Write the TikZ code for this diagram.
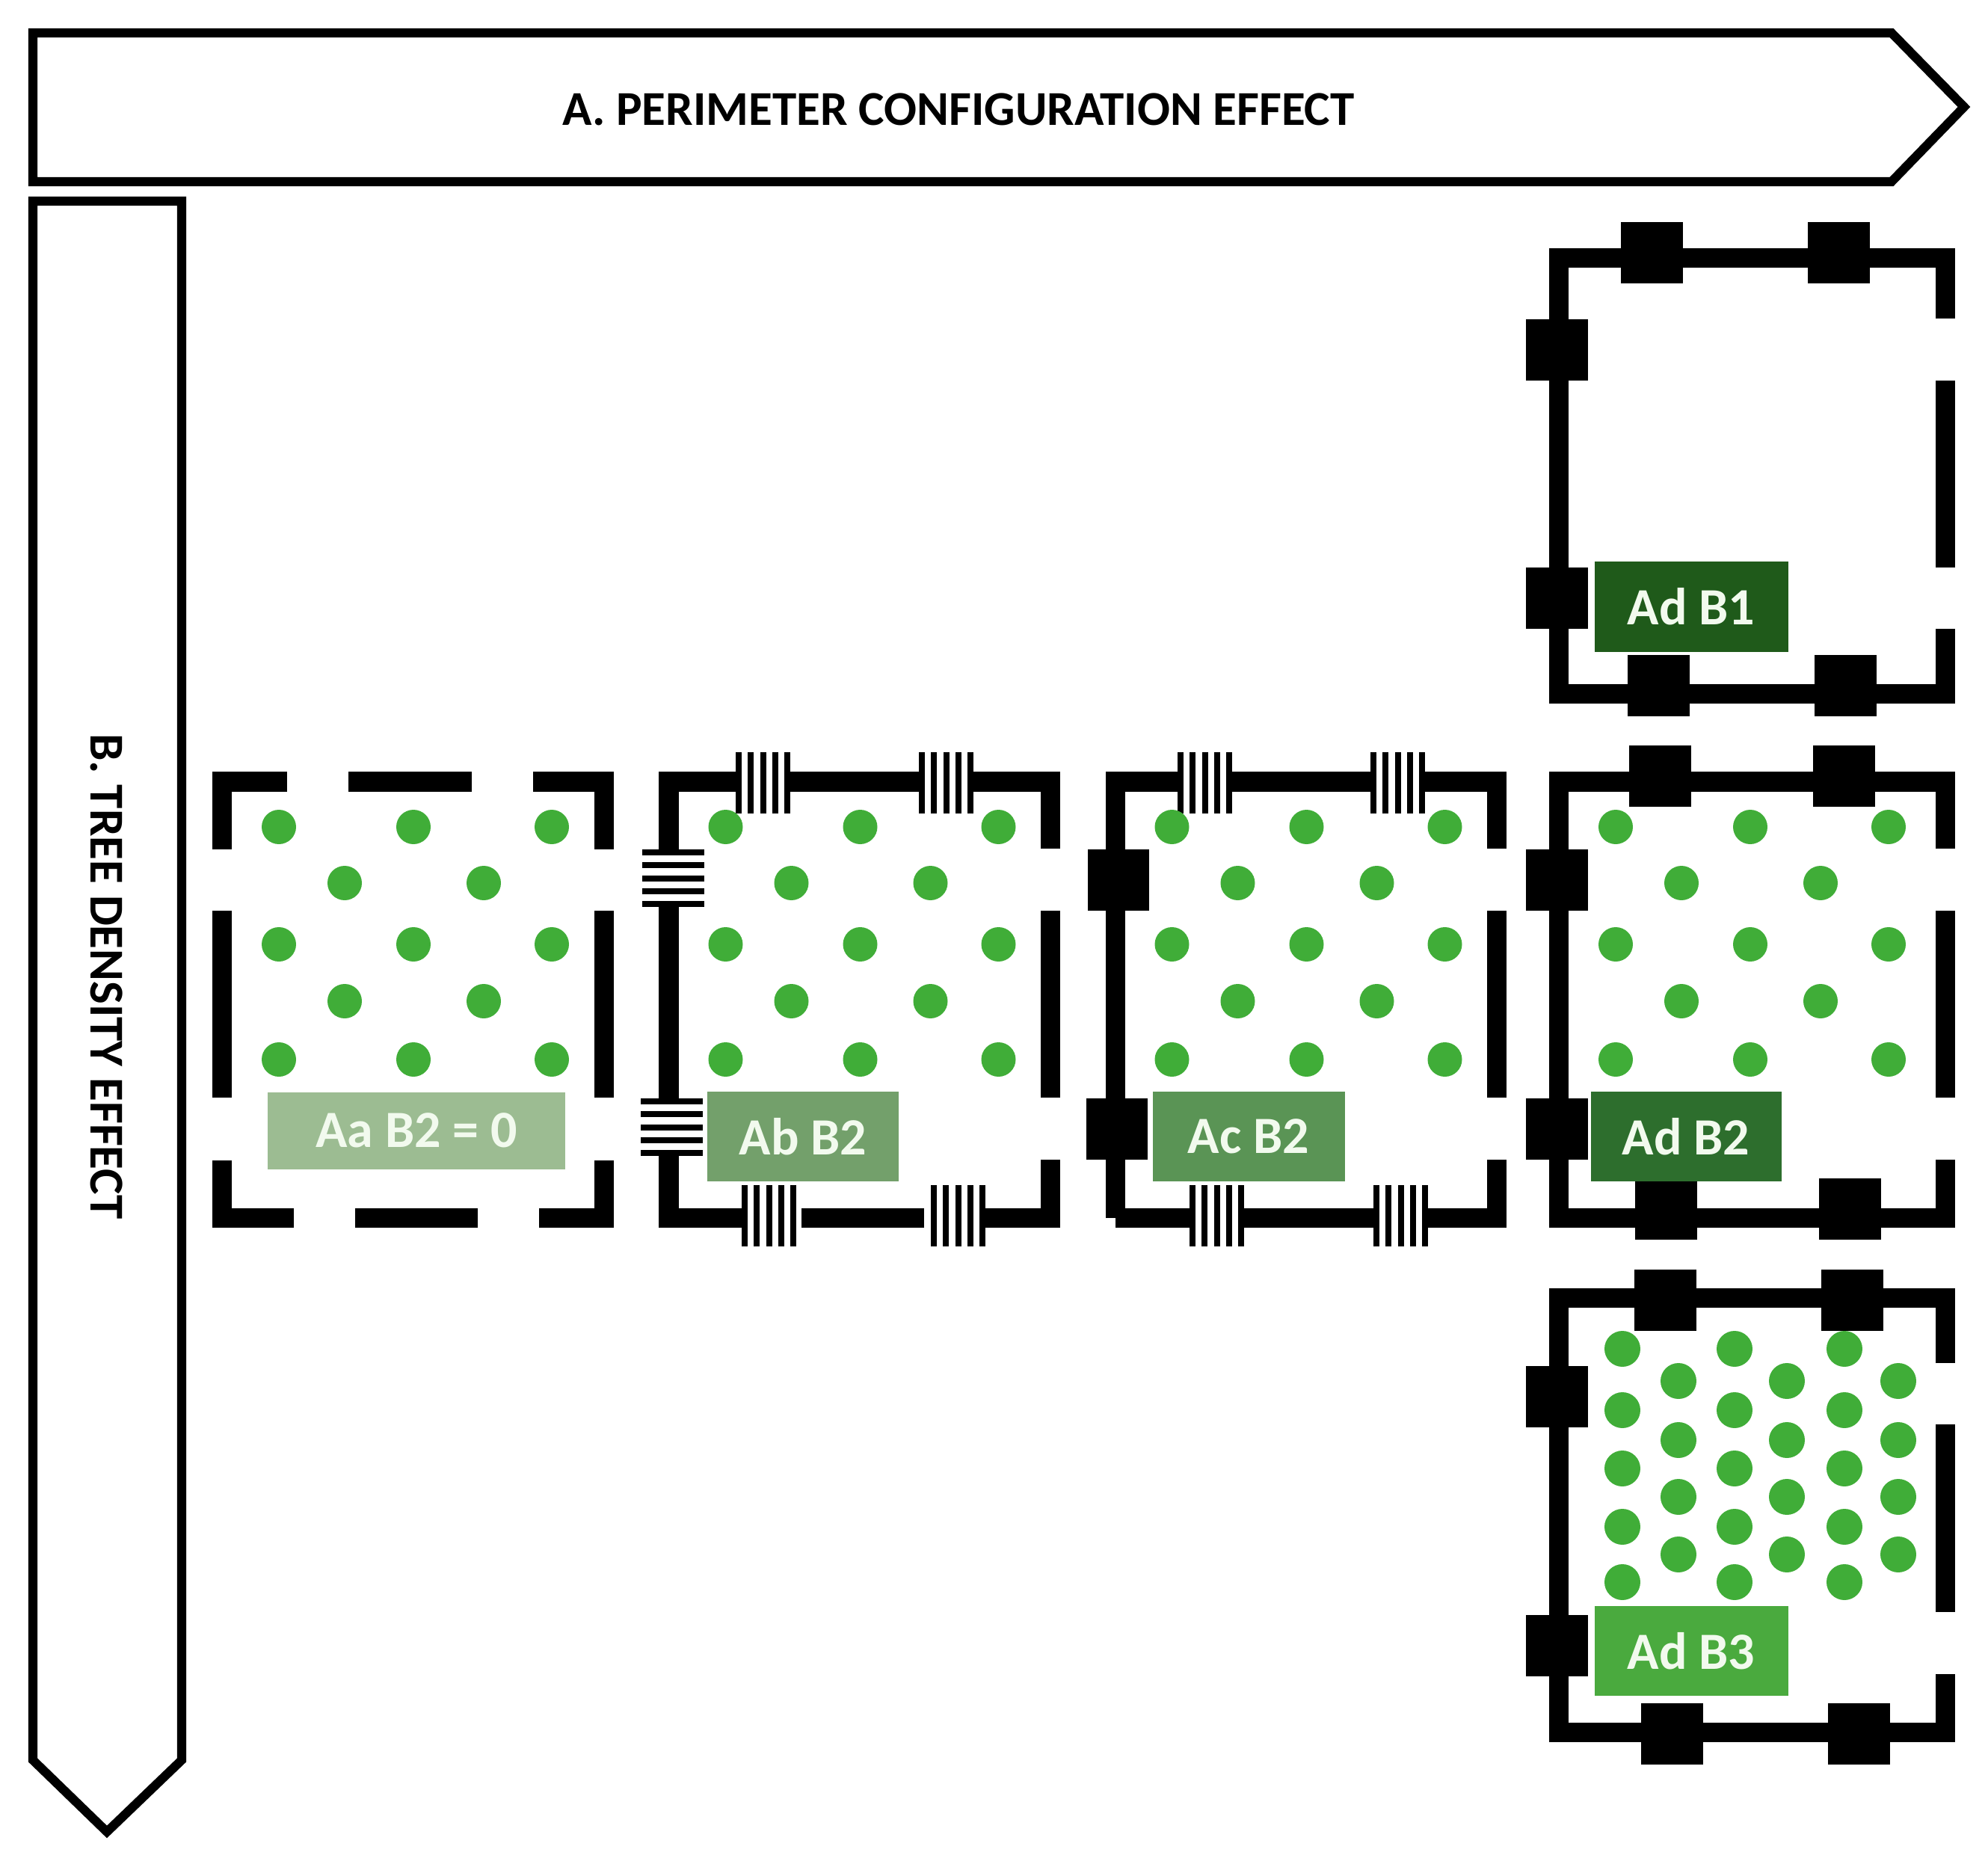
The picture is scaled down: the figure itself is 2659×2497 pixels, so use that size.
\documentclass[tikz,border=0pt]{standalone}
\usepackage{fontspec}
\setmainfont{Carlito}
\begin{document}
\begin{tikzpicture}[x=0.01cm,y=-0.01cm,
  frame/.style={line width=0.26cm,line cap=butt,line join=miter},
  arrowbox/.style={line width=0.12cm,line join=miter,fill=white},
  dot/.style={fill=dotgreen},
  lab/.style={minimum width=#1,text=labtext,font=\fontsize{19.9}{24}\selectfont\bfseries,inner sep=0pt,anchor=center},
  sq/.style={fill=black}]
\definecolor{dotgreen}{RGB}{64,173,56}
\definecolor{labtext}{RGB}{242,250,238}
\definecolor{cAa}{RGB}{156,188,146}
\definecolor{cAb}{RGB}{115,160,107}
\definecolor{cAc}{RGB}{90,148,85}
\definecolor{cAdII}{RGB}{45,110,45}
\definecolor{cAdI}{RGB}{31,90,26}
\definecolor{cAdIII}{RGB}{74,170,62}
\useasboundingbox (0,0) rectangle (2659,2497);
\newcommand\vstrp[3]{\foreach \i in {0,...,4}{\fill ({#1+\i*16.25},#2) rectangle ({#1+\i*16.25+8},#3);}}
\newcommand\hstrp[3]{\foreach \i in {0,...,4}{\fill (#1,{#2+\i*17.25}) rectangle (#3,{#2+\i*17.25+8});}}
\newcommand\dotgrid[1]{%
  \foreach \dx in {76,256,441}{\foreach \yy in {1106,1263,1417}{\fill[dot] ({#1+\dx},\yy) circle (23);}}
  \foreach \dx in {164,350}{\foreach \yy in {1181,1339}{\fill[dot] ({#1+\dx},\yy) circle (23);}}}
% arrows
\draw[arrowbox] (44,44) -- (2530,44) -- (2627,143) -- (2530,243) -- (44,243) -- cycle;
\node[font=\fontsize{18.5}{22}\selectfont\bfseries] (ta) at (1282,146) {A. PERIMETER CONFIGURATION EFFECT};
\draw[arrowbox] (44,269) -- (243,269) -- (243,2354) -- (143,2450) -- (44,2354) -- cycle;
\node[font=\fontsize{18.5}{22}\selectfont\bfseries,rotate=-90] (la) at (143,1306) {B. TREE DENSITY EFFECT};
% Aa box
\draw[frame] (297,1136) -- (297,1045.5) -- (384,1045.5);
\draw[frame] (466,1045.5) -- (631,1045.5);
\draw[frame] (713,1045.5) -- (808,1045.5) -- (808,1136);
\draw[frame] (297,1218) -- (297,1468);
\draw[frame] (808,1218) -- (808,1468);
\draw[frame] (297,1552) -- (297,1629) -- (393,1629);
\draw[frame] (475,1629) -- (639,1629);
\draw[frame] (721,1629) -- (808,1629) -- (808,1552);
\dotgrid{297}
\fill[cAa] (358,1461) rectangle (756,1564);
\node[lab] (laa) at (557,1512) {Aa B2 = 0};
% Ab box
\draw[frame] (894.5,1136) -- (894.5,1045.5) -- (984,1045.5);
\vstrp{984}{1006}{1088}
\draw[frame] (1057,1045.5) -- (1229,1045.5);
\vstrp{1229}{1006}{1088}
\draw[frame] (1302,1045.5) -- (1405,1045.5) -- (1405,1135);
\draw[frame] (1405,1218) -- (1405,1468);
\draw[frame] (1405,1551) -- (1405,1629) -- (1318,1629);
\vstrp{1245}{1585}{1667}
\draw[frame] (1236,1629) -- (1072,1629);
\vstrp{992}{1585}{1667}
\draw[frame] (992,1629) -- (894.5,1629) -- (894.5,1542);
\hstrp{857}{1469}{940}
\draw[frame] (894.5,1469) -- (894.5,1213);
\hstrp{859}{1136}{942}
\dotgrid{894.5}
\fill[cAb] (946,1460) rectangle (1202,1580);
\node[lab] (lab) at (1074,1520) {Ab B2};
% Ac box
\draw[frame] (1491.5,1629) -- (1491.5,1045.5) -- (1575,1045.5);
\vstrp{1575}{1006}{1088}
\draw[frame] (1648,1045.5) -- (1833,1045.5);
\vstrp{1833}{1006}{1088}
\draw[frame] (1906,1045.5) -- (2002,1045.5) -- (2002,1135);
\draw[frame] (2002,1218) -- (2002,1468);
\draw[frame] (2002,1551) -- (2002,1629) -- (1910,1629);
\vstrp{1837}{1585}{1667}
\draw[frame] (1837,1629) -- (1663,1629);
\vstrp{1591}{1585}{1667}
\draw[frame] (1591,1629) -- (1491.5,1629);
\fill[sq] (1455,1136) rectangle (1537,1218);
\fill[sq] (1453,1469) rectangle (1535,1551);
\dotgrid{1491.5}
\fill[cAc] (1542,1460) rectangle (1799,1580);
\node[lab] (lac) at (1670,1520) {Ac B2};
% Ad B1
\draw[frame] (2602,426) -- (2602,345) -- (2085,345) -- (2085,928) -- (2602,928) -- (2602,841);
\draw[frame] (2602,509) -- (2602,759);
\foreach \x/\y in {2168/297,2418/297,2041/427,2041/759,2177/876,2427/876}{\fill[sq] (\x,\y) rectangle ++(83,82);}
\fill[cAdI] (2133,751) rectangle (2392,872);
\node[lab] (ladi) at (2262,811) {Ad B1};
% Ad B2
\draw[frame] (2602,1135) -- (2602,1045.5) -- (2085,1045.5) -- (2085,1629) -- (2602,1629) -- (2602,1551);
\draw[frame] (2602,1218) -- (2602,1468);
\foreach \x/\y in {2179/997,2425/997,2041/1136,2041/1469,2187/1576,2433/1576}{\fill[sq] (\x,\y) rectangle ++(83,82);}
\dotgrid{2085}
\fill[cAdII] (2128,1460) rectangle (2383,1580);
\node[lab] (ladii) at (2255,1520) {Ad B2};
% Ad B3
\draw[frame] (2602,1823) -- (2602,1736) -- (2085,1736) -- (2085,2317) -- (2602,2317) -- (2602,2239);
\draw[frame] (2602,1905) -- (2602,2156);
\foreach \x/\y in {2186/1698,2436/1698,2041/1827,2041/2160,2195/2278,2445/2278}{\fill[sq] (\x,\y) rectangle ++(83,82);}
\foreach \x in {2170,2320,2467}{\foreach \y in {1804,1886,1964,2042,2116}{\fill[dot] (\x,\y) circle (24);}}
\foreach \x in {2245,2390,2539}{\foreach \y in {1847,1926,2002,2079}{\fill[dot] (\x,\y) circle (24);}}
\fill[cAdIII] (2133,2148) rectangle (2392,2268);
\node[lab] (ladiii) at (2262,2208) {Ad B3};
\end{tikzpicture}
\end{document}
